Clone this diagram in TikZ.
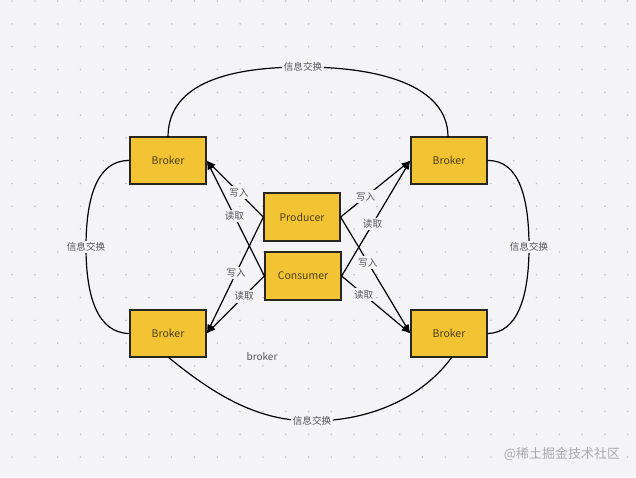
\documentclass[tikz,border=0pt]{standalone}
\usepackage{fontspec}
\setmainfont{Noto Sans CJK SC}
\usetikzlibrary{arrows.meta}
\definecolor{canvas}{RGB}{244,244,246}
\definecolor{dotc}{RGB}{196,196,200}
\definecolor{boxfill}{RGB}{242,195,50}
\definecolor{boxline}{RGB}{40,38,32}
\definecolor{boxtext}{RGB}{78,64,22}
\definecolor{lbltext}{RGB}{85,85,85}
\definecolor{wmtext}{RGB}{170,170,172}
\tikzset{
  box/.style={draw=boxline, fill=boxfill, line width=1.3pt, minimum width=76pt, minimum height=47pt,
    inner sep=0pt, text=boxtext, font=\fontsize{10.5}{12}\selectfont},
  arr/.style={line width=1.2pt, -{Latex[length=9pt,width=7pt]}},
  link/.style={line width=1.2pt},
  lbl/.style={fill=canvas, inner sep=2pt, text=lbltext, font=\fontsize{9.6}{11}\selectfont},
  gridpt/.style={fill=dotc},
}
\begin{document}
\begin{tikzpicture}[x=1pt,y=-1pt]
\fill[canvas] (0,0) rectangle (636,477);
\useasboundingbox (0,0) rectangle (636,477);
% dot grid
\foreach \i in {0,...,27}{
  \foreach \j in {0,...,20}{
    \fill[gridpt] ({12.1+22.8*\i},{1.1+22.8*\j}) circle (0.9pt);
  }
}
% boxes
\node[box] (b1) at (168,160.5) {Broker};
\node[box] (b2) at (449,160.5) {Broker};
\node[box] (b3) at (168,333.5) {Broker};
\node[box] (b4) at (449,333.5) {Broker};
\node[box, minimum height=48pt] (p) at (302,217) {Producer};
\node[box, minimum height=48pt] (c) at (303,276) {Consumer};
% coordinates for curve endpoints
\coordinate (t1) at (168,137);
\coordinate (t2) at (448,137);
\coordinate (u1) at (168,357);
\coordinate (u2) at (452,357);
% arrows
\draw[arr] (p.west) -- node[lbl,pos=0.43]{写入} (b1.east);
\draw[arr] (c.west) -- node[lbl,pos=0.52]{读取} (b1.east);
\draw[arr] (p.west) -- node[lbl,pos=0.48]{写入} (b3.east);
\draw[arr] (c.west) -- node[lbl,pos=0.35]{读取} (b3.east);
\draw[arr] (p.east) -- node[lbl,pos=0.36]{写入} (b2.west);
\draw[arr] (c.east) -- node[lbl,pos=0.45]{读取} (b2.west);
\draw[arr] (p.east) -- node[lbl,pos=0.39]{写入} (b4.west);
\draw[arr] (c.east) -- node[lbl,pos=0.32]{读取} (b4.west);
% exchange curves
\draw[link] (t1) .. controls (168,82) and (232,67) .. (303,67)
  node[lbl] (lt) {信息交换}
  .. controls (376,67) and (448,84) .. (t2);
\draw[link] (b1.west) .. controls (96,160) and (86,200) .. (86,247)
  node[lbl] (ll) {信息交换}
  .. controls (86,298) and (98,333) .. (b3.west);
\draw[link] (b2.east) .. controls (520,160) and (529,200) .. (529,247)
  node[lbl] (lr) {信息交换}
  .. controls (529,298) and (517,333) .. (b4.east);
\draw[link] (u1) .. controls (218,398) and (260,421) .. (312,421)
  node[lbl] (lb) {信息交换}
  .. controls (370,421) and (422,398) .. (u2);
% free text
\node[text=lbltext, font=\fontsize{10}{12}\selectfont, inner sep=0pt] (bk) at (262,356.5) {broker};
\node[text=wmtext, font=\fontsize{13}{15}\selectfont, inner sep=0pt] (wm) at (562,454) {@稀土掘金技术社区};
\end{tikzpicture}
\end{document}
